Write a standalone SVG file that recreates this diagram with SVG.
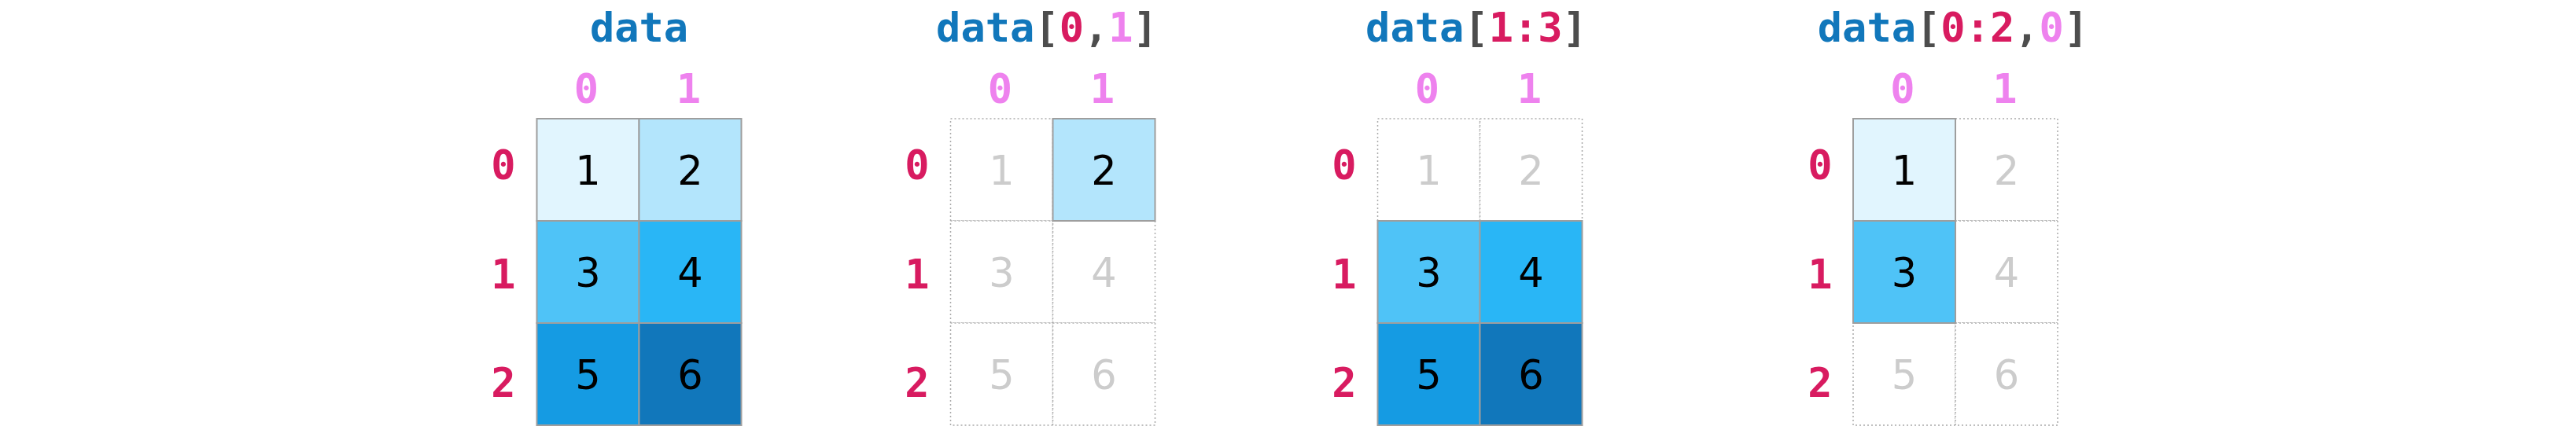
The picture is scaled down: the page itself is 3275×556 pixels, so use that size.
<svg xmlns="http://www.w3.org/2000/svg" width="3275" height="556" viewBox="0 0 3275 556">
<style>
.title{font-family:"DejaVu Sans Mono","Liberation Mono",monospace;font-weight:bold;font-size:52px;text-anchor:middle}
.b{fill:#1177bb}.g{fill:#4d4d4d}.p{fill:#d81b60}.v{fill:#ee82ee}
.col{font-family:"DejaVu Sans Mono","Liberation Mono",monospace;font-weight:bold;font-size:52px;text-anchor:middle;fill:#ee82ee}
.row{font-family:"DejaVu Sans Mono","Liberation Mono",monospace;font-weight:bold;font-size:52px;text-anchor:middle;fill:#d81b60}
.num{font-family:"DejaVu Sans","Liberation Sans",sans-serif;font-size:51px;text-anchor:middle;fill:#000}
.fnum{font-family:"DejaVu Sans","Liberation Sans",sans-serif;font-size:51px;text-anchor:middle;fill:#cccccc}
.sel{stroke:#9e9e9e;stroke-width:2}
.dot{fill:#fff;stroke:#aaaaaa;stroke-width:1.5;stroke-dasharray:2 3}
.c1{fill:#e1f5fe}.c2{fill:#b3e5fc}.c3{fill:#4fc3f7}.c4{fill:#29b6f6}.c5{fill:#159be3}.c6{fill:#1177bb}
</style>

<!-- Panel 1: data -->
<g id="panel-data">
  <text class="title" x="812.5" y="52.5"><tspan class="b">data</tspan></text>
  <text class="col" x="745.5" y="130.5">0</text>
  <text class="col" x="875.5" y="130.5">1</text>
  <text class="row" x="640" y="228">0</text>
  <text class="row" x="640" y="367">1</text>
  <text class="row" x="640" y="505">2</text>
  <g id="p1-c00"><rect class="c1 sel" x="682.5" y="151" width="130" height="130"/><text class="num" x="747.5" y="234.5">1</text></g>
  <g id="p1-c01"><rect class="c2 sel" x="812.5" y="151" width="130" height="130"/><text class="num" x="877.5" y="234.5">2</text></g>
  <g id="p1-c10"><rect class="c3 sel" x="682.5" y="281" width="130" height="130"/><text class="num" x="747.5" y="364.5">3</text></g>
  <g id="p1-c11"><rect class="c4 sel" x="812.5" y="281" width="130" height="130"/><text class="num" x="877.5" y="364.5">4</text></g>
  <g id="p1-c20"><rect class="c5 sel" x="682.5" y="411" width="130" height="130"/><text class="num" x="747.5" y="494.5">5</text></g>
  <g id="p1-c21"><rect class="c6 sel" x="812.5" y="411" width="130" height="130"/><text class="num" x="877.5" y="494.5">6</text></g>
</g>

<!-- Panel 2: data[0,1] -->
<g id="panel-data-0-1">
  <text class="title" x="1331" y="52.5"><tspan class="b">data</tspan><tspan class="g">[</tspan><tspan class="p">0</tspan><tspan class="g">,</tspan><tspan class="v">1</tspan><tspan class="g">]</tspan></text>
  <text class="col" x="1271.5" y="130.5">0</text>
  <text class="col" x="1401.5" y="130.5">1</text>
  <text class="row" x="1166" y="228">0</text>
  <text class="row" x="1166" y="367">1</text>
  <text class="row" x="1166" y="505">2</text>
  <g id="p2-c00"><rect class="dot" x="1208.5" y="151" width="130" height="130"/><text class="fnum" x="1273.5" y="234.5">1</text></g>
  <g id="p2-c10"><rect class="dot" x="1208.5" y="281" width="130" height="130"/><text class="fnum" x="1273.5" y="364.5">3</text></g>
  <g id="p2-c11"><rect class="dot" x="1338.5" y="281" width="130" height="130"/><text class="fnum" x="1403.5" y="364.5">4</text></g>
  <g id="p2-c20"><rect class="dot" x="1208.5" y="411" width="130" height="130"/><text class="fnum" x="1273.5" y="494.5">5</text></g>
  <g id="p2-c21"><rect class="dot" x="1338.5" y="411" width="130" height="130"/><text class="fnum" x="1403.5" y="494.5">6</text></g>
  <g id="p2-c01"><rect class="c2 sel" x="1338.5" y="151" width="130" height="130"/><text class="num" x="1403.5" y="234.5">2</text></g>
</g>

<!-- Panel 3: data[1:3] -->
<g id="panel-data-1-3">
  <text class="title" x="1877" y="52.5"><tspan class="b">data</tspan><tspan class="g">[</tspan><tspan class="p">1:3</tspan><tspan class="g">]</tspan></text>
  <text class="col" x="1814.5" y="130.5">0</text>
  <text class="col" x="1944.5" y="130.5">1</text>
  <text class="row" x="1709" y="228">0</text>
  <text class="row" x="1709" y="367">1</text>
  <text class="row" x="1709" y="505">2</text>
  <g id="p3-c00"><rect class="dot" x="1751.5" y="151" width="130" height="130"/><text class="fnum" x="1816.5" y="234.5">1</text></g>
  <g id="p3-c01"><rect class="dot" x="1881.5" y="151" width="130" height="130"/><text class="fnum" x="1946.5" y="234.5">2</text></g>
  <g id="p3-c10"><rect class="c3 sel" x="1751.5" y="281" width="130" height="130"/><text class="num" x="1816.5" y="364.5">3</text></g>
  <g id="p3-c11"><rect class="c4 sel" x="1881.5" y="281" width="130" height="130"/><text class="num" x="1946.5" y="364.5">4</text></g>
  <g id="p3-c20"><rect class="c5 sel" x="1751.5" y="411" width="130" height="130"/><text class="num" x="1816.5" y="494.5">5</text></g>
  <g id="p3-c21"><rect class="c6 sel" x="1881.5" y="411" width="130" height="130"/><text class="num" x="1946.5" y="494.5">6</text></g>
</g>

<!-- Panel 4: data[0:2,0] -->
<g id="panel-data-0-2-0">
  <text class="title" x="2483" y="52.5"><tspan class="b">data</tspan><tspan class="g">[</tspan><tspan class="p">0:2</tspan><tspan class="g">,</tspan><tspan class="v">0</tspan><tspan class="g">]</tspan></text>
  <text class="col" x="2419" y="130.5">0</text>
  <text class="col" x="2549" y="130.5">1</text>
  <text class="row" x="2314" y="228">0</text>
  <text class="row" x="2314" y="367">1</text>
  <text class="row" x="2314" y="505">2</text>
  <g id="p4-c01"><rect class="dot" x="2486" y="151" width="130" height="130"/><text class="fnum" x="2551" y="234.5">2</text></g>
  <g id="p4-c11"><rect class="dot" x="2486" y="281" width="130" height="130"/><text class="fnum" x="2551" y="364.5">4</text></g>
  <g id="p4-c20"><rect class="dot" x="2356" y="411" width="130" height="130"/><text class="fnum" x="2421" y="494.5">5</text></g>
  <g id="p4-c21"><rect class="dot" x="2486" y="411" width="130" height="130"/><text class="fnum" x="2551" y="494.5">6</text></g>
  <g id="p4-c00"><rect class="c1 sel" x="2356" y="151" width="130" height="130"/><text class="num" x="2421" y="234.5">1</text></g>
  <g id="p4-c10"><rect class="c3 sel" x="2356" y="281" width="130" height="130"/><text class="num" x="2421" y="364.5">3</text></g>
</g>
</svg>
